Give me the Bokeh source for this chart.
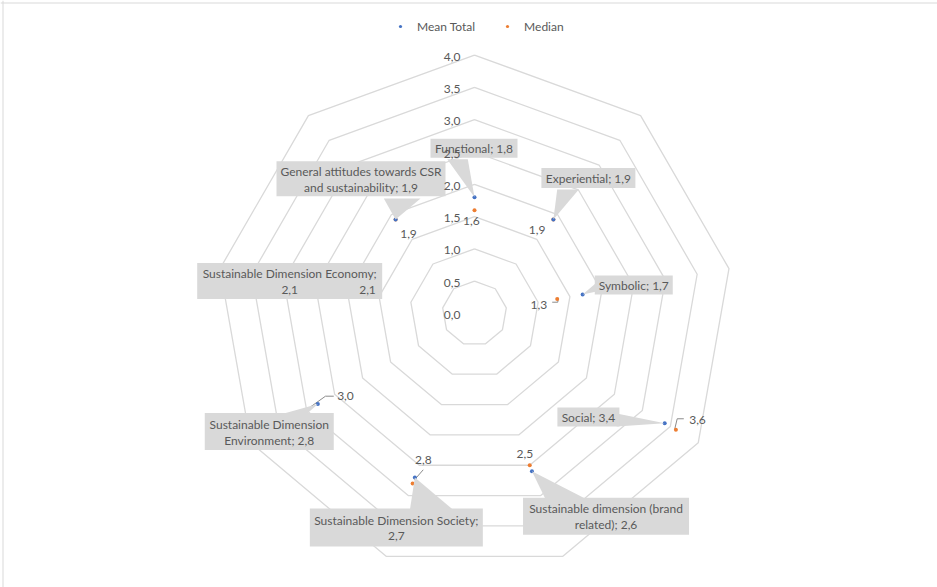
import math
import textwrap
from bokeh.plotting import figure
from bokeh.models import Range1d, Legend, LegendItem, Span
from bokeh.core.properties import value
from bokeh.embed import file_html
from bokeh.resources import INLINE

# ---------------- data ----------------
categories = ["Functional", "Experiential", "Symbolic", "Social",
              "Sustainable dimension (brand related)",
              "Sustainable Dimension Society",
              "Sustainable Dimension Environment",
              "Sustainable Dimension Economy",
              "General attitudes towards CSR and sustainability"]
mean_total = [1.8, 1.9, 1.7, 3.4, 2.6, 2.7, 2.8, 2.1, 1.9]
median = [1.6, 1.9, 1.3, 3.6, 2.5, 2.8, 3.0, 2.1, 1.9]
ticks = [0.0, 0.5, 1.0, 1.5, 2.0, 2.5, 3.0, 3.5, 4.0]
series_names = ["Mean Total", "Median"]

# ---------------- layout / style ----------------
W, H = 937, 587
S = 64.6          # pixels per unit
CX, CY = 474, 313  # pixel position of the centre
FONT = "Lato"
FS = "12px"
LINE_H = 16
TXT = "#595959"
BLUE = "#4472c4"
ORANGE = "#ed7d31"
GRID = "#d9d9d9"
BOX = "#d9d9d9"

# callout layout for mean labels: box centre offset (px, y down), box size, pointer base, wrap width
callouts = [
    dict(off=(-0.5, -48.9), size=(87, 19), base=[(-27.3, -38), (-6.7, -38)], wrap=100),
    dict(off=(35, -41.5), size=(94, 20), base=[(3.8, -30), (25.4, -30)], wrap=100),
    dict(off=(51.1, -9.4), size=(78, 19), base=[(14, -11.9), (14, -2.9)], wrap=100),
    dict(off=(-76.3, -6.4), size=(62, 19), base=[(-48, -9.8), (-48, 3.2)], wrap=100),
    dict(off=(74.1, 44.9), size=(166, 37), base=[(13.6, 28), (54.6, 28)], wrap=28),
    dict(off=(-18.5, 50.1), size=(173, 38), base=[(-5, 33), (39, 33)], wrap=30),
    dict(off=(-48.6, 27.6), size=(129, 37), base=[(-39.3, 11), (-12.3, 11)], wrap=21),
    dict(off=(-51.2, -8.9), size=(185, 36), base=None, wrap=30),
    dict(off=(-34.6, -40.7), size=(169, 35), base=[(-11.8, -21), (24.9, -21)], wrap=29),
]
# median label layout: text centre offset (px, y down) and leader polyline offsets
median_labels = [
    dict(off=(-3.2, 10.4), leader=None),
    dict(off=(-16.2, 11), leader=None),
    dict(off=(-18.4, 5.6), leader=[(-5, 3.3), (0.6, 3.3), (1, -1.1)]),
    dict(off=(21.6, -9.3), leader=[(-1.1, -1), (1.3, -11), (7.9, -11)]),
    dict(off=(-4.9, -11.5), leader=None),
    dict(off=(10.7, -23), leader=[(1.9, -3.7), (10.6, -13.7)]),
    dict(off=(38.8, -14.2), leader=[(-0.2, -0.6), (18.8, -14.2), (27.1, -14.2)]),
    dict(off=(26.6, -0.1), leader=[(0, 0), (14.6, 0)]),
    dict(off=(12.9, 14.3), leader=None),
]

N = len(categories)
angles = [2 * math.pi * i / N for i in range(N)]


def polar(r, a):
    return r * math.sin(a), r * math.cos(a)


def fmt(v):
    return f"{v:.1f}".replace(".", ",")


p = figure(width=W, height=H, output_backend="svg", toolbar_location=None,
           x_range=Range1d(-CX / S, (W - CX) / S),
           y_range=Range1d(-(H - CY) / S, CY / S),
           min_border=0, background_fill_color="white", border_fill_color="white")
p.axis.visible = False
p.grid.visible = False
p.outline_line_color = None

# chart-area frame (left and top edges visible in the reference)
p.add_layout(Span(location=-CX / S + 2.5 / S, dimension="height", line_color="#d9d9d9", line_width=1))
p.add_layout(Span(location=CY / S - 2.5 / S, dimension="width", line_color="#d9d9d9", line_width=1))

# grid rings
ring_xs, ring_ys = [], []
for t in ticks:
    if t == 0:
        continue
    pts = [polar(t, a) for a in angles] + [polar(t, angles[0])]
    ring_xs.append([q[0] for q in pts])
    ring_ys.append([q[1] for q in pts])
p.multi_line(ring_xs, ring_ys, line_color=GRID, line_width=1.3)

# series points
mx = [polar(v, a)[0] for v, a in zip(mean_total, angles)]
my = [polar(v, a)[1] for v, a in zip(mean_total, angles)]
dx = [polar(v, a)[0] for v, a in zip(median, angles)]
dy = [polar(v, a)[1] for v, a in zip(median, angles)]

# median leader lines
for i, ml in enumerate(median_labels):
    if ml["leader"]:
        xs = [dx[i] + o[0] / S for o in ml["leader"]]
        ys = [dy[i] - o[1] / S for o in ml["leader"]]
        p.line(xs, ys, line_color="#8c8c8c", line_width=1)

r_med = p.scatter(dx, dy, size=4, marker="circle", fill_color=ORANGE, line_color=None)
r_mean = p.scatter(mx, my, size=4, marker="circle", fill_color=BLUE, line_color=None)

# callouts
tri_xs, tri_ys = [], []
bx, by, bw, bh = [], [], [], []
tx, ty, tt, toff = [], [], [], []
for i, c in enumerate(callouts):
    label = f"{categories[i]}; {fmt(mean_total[i])}"
    lines = textwrap.wrap(label, c["wrap"])
    cxd = mx[i] + c["off"][0] / S
    cyd = my[i] - c["off"][1] / S
    bx.append(cxd); by.append(cyd)
    bw.append(c["size"][0]); bh.append(c["size"][1])
    n = len(lines)
    for k, ln in enumerate(lines):
        tx.append(cxd); ty.append(cyd); tt.append(ln)
        toff.append((k - (n - 1) / 2) * LINE_H + 0.5)
    if c["base"]:
        tri_xs.append([mx[i] + c["base"][0][0] / S, mx[i] + c["base"][1][0] / S, mx[i]])
        tri_ys.append([my[i] - c["base"][0][1] / S, my[i] - c["base"][1][1] / S, my[i]])
p.patches(tri_xs, tri_ys, fill_color=BOX, line_color=None)
p.rect(bx, by, width=bw, height=bh, width_units="screen", height_units="screen",
       fill_color=BOX, line_color=None)
p.text(x="x", y="y", text="t", y_offset="yo",
       source=dict(x=tx, y=ty, t=tt, yo=toff),
       text_align="center", text_baseline="middle",
       text_font=value(FONT), text_font_size=FS, text_color=TXT)

# axis labels
p.text([0] * len(ticks), ticks, text=[fmt(t) for t in ticks], x_offset=-14, y_offset=1.5,
       text_align="right", text_baseline="middle",
       text_font=value(FONT), text_font_size=FS, text_color=TXT)

# median labels
lx = [dx[i] + ml["off"][0] / S for i, ml in enumerate(median_labels)]
ly = [dy[i] - ml["off"][1] / S for i, ml in enumerate(median_labels)]
p.text(lx, ly, text=[fmt(v) for v in median], text_align="center", text_baseline="middle",
       text_font=value(FONT), text_font_size=FS, text_color=TXT)

legend = Legend(items=[LegendItem(label=series_names[0], renderers=[r_mean]),
                       LegendItem(label=series_names[1], renderers=[r_med])],
                orientation="horizontal", location=(396, H - 35),
                glyph_width=8, glyph_height=8, label_standoff=13, spacing=28,
                padding=0, margin=0, border_line_color=None, background_fill_alpha=0,
                label_text_font=FONT, label_text_font_size=FS, label_text_color=TXT,
                label_height=18)
p.add_layout(legend)

open("out.html", "w").write(file_html(p, INLINE))
